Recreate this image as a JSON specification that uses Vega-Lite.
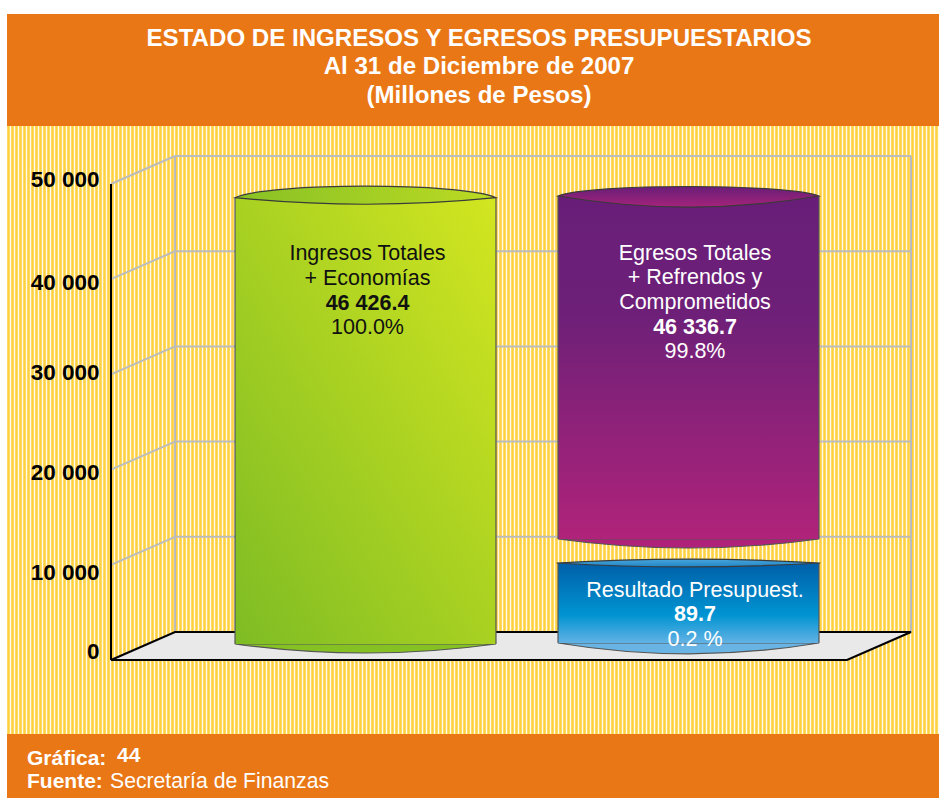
{
"$schema":"https://vega.github.io/schema/vega-lite/v6.json",
"width":939,"height":798,"autosize":"none","padding":0,"background":"#ffffff",
"view":{"fill":"#ffe48c","stroke":null},
"config":{"text":{"font":"Liberation Sans"},"axis":{"labelFont":"Liberation Sans"}},
"datasets":{
"cilindros":[
{"columna":"Ingresos","serie":"Ingresos","valor":46426.4,"desde":1681,"hasta":48560},
{"columna":"Egresos","serie":"Egresos","valor":46336.7,"desde":12710,"hasta":48740},
{"columna":"Egresos","serie":"Resultado","valor":89.7,"desde":1786,"hasta":10189}
],
"escala":[
{"valor":10000,"fondo":12941},{"valor":20000,"fondo":22941},{"valor":30000,"fondo":32941},{"valor":40000,"fondo":42941},{"valor":50000,"fondo":52941}
],
"piso":[
{"pos":111,"bajo":0,"alto":0},{"pos":175,"bajo":0,"alto":2941},{"pos":847,"bajo":0,"alto":2941},{"pos":911,"bajo":2941,"alto":2941}
],
"rotulos":[
{"columna":"Ingresos","texto":"Ingresos Totales","nivel":42752,"tono":"oscuro","fuerte":false},
{"columna":"Ingresos","texto":"+ Economías","nivel":40126,"tono":"oscuro","fuerte":false},
{"columna":"Ingresos","texto":"46 426.4","nivel":37500,"tono":"oscuro","fuerte":true},
{"columna":"Ingresos","texto":"100.0%","nivel":34979,"tono":"oscuro","fuerte":false},
{"columna":"Egresos","texto":"Egresos Totales","nivel":42752,"tono":"claro","fuerte":false},
{"columna":"Egresos","texto":"+ Refrendos y","nivel":40231,"tono":"claro","fuerte":false},
{"columna":"Egresos","texto":"Comprometidos","nivel":37605,"tono":"claro","fuerte":false},
{"columna":"Egresos","texto":"46 336.7","nivel":34979,"tono":"claro","fuerte":true},
{"columna":"Egresos","texto":"99.8%","nivel":32458,"tono":"claro","fuerte":false},
{"columna":"Egresos","texto":"Resultado Presupuest.","nivel":7353,"tono":"claro","fuerte":false},
{"columna":"Egresos","texto":"89.7","nivel":4832,"tono":"claro","fuerte":true},
{"columna":"Egresos","texto":"0.2 %","nivel":2206,"tono":"claro","fuerte":false}
]
},
"resolve":{"scale":{"x":"independent"},"axis":{"x":"independent"}},
"encoding":{},
"layer":[
{"data":{"values":[{"raya":0}]},
 "mark":{"type":"rule","opacity":0},
 "encoding":{"x":{"field":"raya","type":"quantitative","scale":{"domain":[0,234.75],"nice":false,"zero":false},
   "axis":{"tickCount":235,"grid":true,"gridColor":"#ffd040","gridWidth":2,"labels":false,"ticks":false,"domain":false,"title":null}}}},
{"data":{"values":[{"raya":0}]},
 "mark":{"type":"rule","opacity":0},
 "encoding":{"x":{"field":"raya","type":"quantitative","scale":{"domain":[-0.5,234.25],"nice":false,"zero":false},
   "axis":{"tickCount":235,"grid":true,"gridColor":"#fffbe8","gridWidth":1,"labels":false,"ticks":false,"domain":false,"title":null}}}},
{"layer":[
 {"data":{"values":[{"a":1}]},"mark":{"type":"rect","fill":"#e97716"},
  "encoding":{"x":{"datum":7,"type":"quantitative","scale":{"domain":[0,939],"nice":false,"zero":false},"axis":null},"x2":{"datum":939},
   "y":{"datum":67857,"type":"quantitative","scale":{"domain":[-14496,69328],"nice":false,"zero":false},
     "axis":{"orient":"left","offset":-111,"values":[0,10000,20000,30000,40000,50000],"format":",.0f","labelExpr":"replace(datum.label, ',', ' ')","grid":false,"ticks":false,"domain":false,"title":null,"labelFont":"Liberation Sans","labelFontSize":22.5,"labelFontWeight":"bold","labelColor":"#000000","labelPadding":12,"zindex":1,
       "labelOffset":{"condition":[{"test":"datum.value===50000","value":-5},{"test":"datum.value===40000","value":3},{"test":"datum.value===30000","value":-2},{"test":"datum.value===20000","value":3},{"test":"datum.value===10000","value":8}],"value":-8}}},
   "y2":{"datum":56092}}},
 {"data":{"values":[{"a":1}]},"mark":{"type":"rect","fill":"#e97716"},
  "encoding":{"x":{"datum":7,"type":"quantitative"},"x2":{"datum":939},"y":{"datum":-7773,"type":"quantitative"},"y2":{"datum":-14496}}},
 {"data":{"values":[{"a":1}]},"mark":{"type":"rect","fill":"#ffffff"},
  "encoding":{"x":{"datum":0,"type":"quantitative"},"x2":{"datum":7},"y":{"datum":69328,"type":"quantitative"},"y2":{"datum":-14496}}},
 {"data":{"values":[{"a":1}]},"mark":{"type":"rect","fill":"#ffffff"},
  "encoding":{"x":{"datum":0,"type":"quantitative"},"x2":{"datum":939},"y":{"datum":69328,"type":"quantitative"},"y2":{"datum":67857}}},
 {"data":{"name":"escala"},"mark":{"type":"rule","stroke":"#bcbcbc","strokeWidth":2},
  "encoding":{"x":{"datum":175,"type":"quantitative"},"x2":{"datum":911},"y":{"field":"fondo","type":"quantitative"}}},
 {"data":{"name":"escala"},"mark":{"type":"rule","stroke":"#bcbcbc","strokeWidth":2},
  "encoding":{"x":{"datum":111,"type":"quantitative"},"x2":{"datum":175},"y":{"field":"valor","type":"quantitative"},"y2":{"field":"fondo"}}},
 {"data":{"values":[{"a":1}]},"mark":{"type":"rule","stroke":"#bcbcbc","strokeWidth":2},
  "encoding":{"x":{"datum":175,"type":"quantitative"},"y":{"datum":2600,"type":"quantitative"},"y2":{"datum":52941}}},
 {"data":{"values":[{"a":1}]},"mark":{"type":"rule","stroke":"#bcbcbc","strokeWidth":2},
  "encoding":{"x":{"datum":911,"type":"quantitative"},"y":{"datum":2941,"type":"quantitative"},"y2":{"datum":52941}}},
 {"data":{"name":"piso"},"mark":{"type":"area","fill":"#e9e9e9","stroke":"#000000","strokeWidth":2,"interpolate":"linear"},
  "encoding":{"x":{"field":"pos","type":"quantitative"},"y":{"field":"bajo","type":"quantitative"},"y2":{"field":"alto"}}},
 {"data":{"values":[{"a":1}]},"mark":{"type":"rule","stroke":"#000000","strokeWidth":2},
  "encoding":{"x":{"datum":111,"type":"quantitative"},"y":{"datum":0,"type":"quantitative"},"y2":{"datum":50000}}},
 {"data":{"values":[
   {"texto":"ESTADO DE INGRESOS Y EGRESOS PRESUPUESTARIOS","nivel":65231},
   {"texto":"Al 31 de Diciembre de 2007","nivel":62290},
   {"texto":"(Millones de Pesos)","nivel":59240}]},
  "mark":{"type":"text","font":"Liberation Sans","fontSize":24.1,"fontWeight":"bold","fill":"#ffffff","align":"center","baseline":"middle"},
  "encoding":{"x":{"datum":479,"type":"quantitative"},"y":{"field":"nivel","type":"quantitative"},"text":{"field":"texto"}}},
 {"data":{"values":[{"texto":"Gráfica:","pos":27,"nivel":-10400},{"texto":"44","pos":117,"nivel":-10085},{"texto":"Fuente:","pos":27,"nivel":-12815}]},
  "mark":{"type":"text","font":"Liberation Sans","fontSize":21,"fontWeight":"bold","fill":"#ffffff","align":"left","baseline":"middle"},
  "encoding":{"x":{"field":"pos","type":"quantitative"},"y":{"field":"nivel","type":"quantitative"},"text":{"field":"texto"}}},
 {"data":{"values":[{"texto":"Secretaría de Finanzas","pos":110,"nivel":-12815}]},
  "mark":{"type":"text","font":"Liberation Sans","fontSize":21.2,"fill":"#ffffff","align":"left","baseline":"middle"},
  "encoding":{"x":{"field":"pos","type":"quantitative"},"y":{"field":"nivel","type":"quantitative"},"text":{"field":"texto"}}}
]},
{"resolve":{"scale":{"shape":"independent"}},
 "layer":[
 {"data":{"name":"cilindros"},"mark":{"type":"point","filled":true,"opacity":1,"size":68121,"stroke":"#555555","strokeWidth":1.2},
  "encoding":{
   "x":{"field":"columna","type":"nominal","scale":{"type":"band","domain":["Ingresos","Egresos"],"range":[204,850],"paddingInner":0.192,"paddingOuter":0.096},"axis":null},
   "y":{"field":"desde","type":"quantitative"},
   "shape":{"field":"serie","type":"nominal","legend":null,"scale":{"domain":["Ingresos","Egresos","Resultado"],"range":["M-1 0Q0 0.138 1 0Z","M-1 0Q0 0.138 1 0Z","M-1 0Q0 0.166 1 0Z"]}},
   "fill":{"condition":[{"test":"datum.serie==='Ingresos'","value":"#86c124"},{"test":"datum.serie==='Egresos'","value":"#ae2379"}],"value":"#68b4e4"}}},
 {"data":{"name":"cilindros"},"mark":{"type":"bar"},
  "encoding":{
   "x":{"field":"columna","type":"nominal"},
   "y":{"field":"desde","type":"quantitative"},"y2":{"field":"hasta"},
   "fill":{"condition":[
     {"test":"datum.serie==='Ingresos'","value":{"gradient":"linear","x1":1,"y1":0,"x2":0,"y2":1,"stops":[{"offset":0,"color":"#d3e620"},{"offset":1,"color":"#7ebc24"}]}},
     {"test":"datum.serie==='Egresos'","value":{"gradient":"linear","x1":0,"y1":0,"x2":0,"y2":1,"stops":[{"offset":0,"color":"#681e78"},{"offset":0.35,"color":"#6e2078"},{"offset":1,"color":"#b0237a"}]}}],
     "value":{"gradient":"linear","x1":0,"y1":0,"x2":0,"y2":1,"stops":[{"offset":0,"color":"#005fa8"},{"offset":0.65,"color":"#0094d2"},{"offset":1,"color":"#62b2e4"}]}}}},
 {"data":{"name":"cilindros"},"mark":{"type":"rule","stroke":"#555555","strokeWidth":1.2},
  "encoding":{"x":{"field":"columna","type":"nominal","bandPosition":0},"y":{"field":"desde","type":"quantitative"},"y2":{"field":"hasta"}}},
 {"data":{"name":"cilindros"},"mark":{"type":"rule","stroke":"#555555","strokeWidth":1.2},
  "encoding":{"x":{"field":"columna","type":"nominal","bandPosition":1},"y":{"field":"desde","type":"quantitative"},"y2":{"field":"hasta"}}},
 {"data":{"name":"cilindros"},"mark":{"type":"point","filled":true,"opacity":1,"size":68121,"stroke":"#3a3a3a","strokeWidth":1.2},
  "encoding":{
   "x":{"field":"columna","type":"nominal"},
   "y":{"field":"hasta","type":"quantitative"},
   "shape":{"field":"serie","type":"nominal","legend":null,"scale":{"domain":["Ingresos","Egresos","Resultado"],"range":["M-1 0C-0.75 -0.1175 0.75 -0.1175 1 0Q0 0.1 -1 0Z","M-1 0C-0.75 -0.097 0.75 -0.097 1 0Q0 0.17 -1 0Z","M-1.01 0Q0 -0.06 1.01 0Q0 0.06 -1.01 0Z"]}},
   "fill":{"condition":[
     {"test":"datum.serie==='Ingresos'","value":{"gradient":"linear","x1":0,"y1":0,"x2":1,"y2":0,"stops":[{"offset":0,"color":"#88c125"},{"offset":1,"color":"#bcdb23"}]}},
     {"test":"datum.serie==='Egresos'","value":{"gradient":"linear","x1":0,"y1":0,"x2":0,"y2":1,"stops":[{"offset":0,"color":"#681e78"},{"offset":1,"color":"#a5237a"}]}}],
     "value":{"gradient":"linear","x1":0,"y1":0,"x2":0,"y2":1,"stops":[{"offset":0,"color":"#4aa6dc"},{"offset":1,"color":"#1f86c6"}]}}}},
 {"data":{"name":"rotulos"},
  "mark":{"type":"text","font":"Liberation Sans","fontSize":21.5,"fontWeight":{"expr":"datum.fuerte?'bold':'normal'"},"align":"center","baseline":"middle","dy":1,"dx":{"expr":"datum.columna==='Ingresos'?2:6.5"}},
  "encoding":{"x":{"field":"columna","type":"nominal","bandPosition":0.5},"y":{"field":"nivel","type":"quantitative"},"text":{"field":"texto"},
   "fill":{"condition":{"test":"datum.tono==='oscuro'","value":"#111111"},"value":"#ffffff"}}}
]}
]}
